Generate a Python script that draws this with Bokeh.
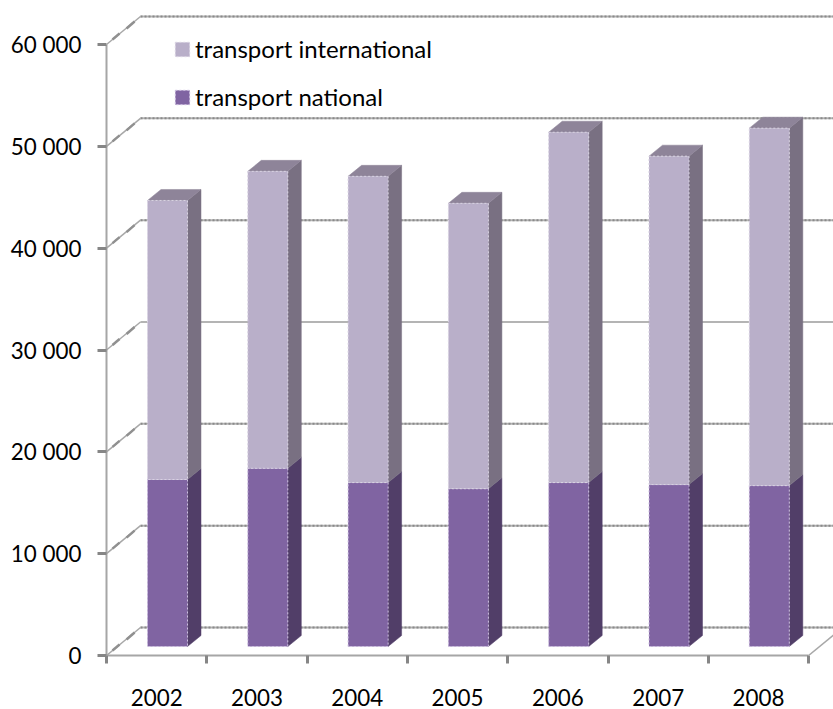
from bokeh.plotting import figure
from bokeh.embed import file_html
from bokeh.resources import INLINE
from bokeh.models import Range1d, LinearAxis, FixedTicker, Legend, LegendItem

# ---- data ----
years = ["2002", "2003", "2004", "2005", "2006", "2007", "2008"]
national = [16400, 17500, 16100, 15500, 16100, 15900, 15800]
international = [27400, 29160, 30070, 28020, 34400, 32250, 35100]
y_ticks = [0, 10000, 20000, 30000, 40000, 50000, 60000]
y_labels = ["0", "10 000", "20 000", "30 000", "40 000", "50 000", "60 000"]
label_national = "transport national"
label_international = "transport international"

# ---- geometry (value units per axis) ----
PX_Y = 60000 / 611.0      # value per pixel
PX_X = 1 / 100.3          # category per pixel
FS = "22.4px"

W, H = 833, 709
p = figure(width=W, height=H, output_backend="svg", toolbar_location=None,
           x_axis_type=None, y_axis_type=None,
           min_border_left=106, min_border_right=0, min_border_top=0, min_border_bottom=54,
           outline_line_color=None, background_fill_color="white", border_fill_color="white")
p.grid.visible = False
x_end = 727 * PX_X
p.x_range = Range1d(0, x_end)
p.y_range = Range1d(0, 655 * PX_Y)

# back wall and depth lines
wall_dx, wall_dy = 34 * PX_X, 28 * PX_Y
n = len(years)
GRID = "#b4b4b4"
for i, t in enumerate(y_ticks):
    p.line([wall_dx, x_end], [t + wall_dy, t + wall_dy], line_color=GRID, line_width=2)
    if t != 30000:
        p.line([wall_dx, x_end], [t + wall_dy, t + wall_dy],
               line_color="#8a8a8a", line_width=2, line_dash="2 2")
    p.line([0, wall_dx], [t, t + wall_dy], line_color="#a8a8a8", line_width=1.5)
    p.line([0.06, 0.13], [t + 5 * PX_Y, t + 11 * PX_Y], line_color="#909090", line_width=2.5)
    p.line([0.20, 0.28], [t + 16 * PX_Y, t + 23 * PX_Y], line_color="#909090", line_width=2.5)
# floor line on right
p.line([n, n + wall_dx], [0, wall_dy], line_color="#a8a8a8", line_width=1.5)

# bars
left = 41 * PX_X
bar_w = 40 * PX_X
base = 9 * PX_Y
dx, dy = 13.5 * PX_X, 11 * PX_Y

xl = [i + left for i in range(n)]
xr = [x + bar_w for x in xl]
nat_top = [base + v for v in national]
tot_top = [a + b for a, b in zip(nat_top, international)]
nat_bot = [base] * n


def side(y0, y1):
    return ([[r, r + dx, r + dx, r] for r in xr],
            [[a, a + dy, b + dy, b] for a, b in zip(y0, y1)])


sx, sy = side(nat_bot, nat_top)
p.patches(sx, sy, fill_color="#513e68", line_color="#513e68", line_width=0.5)
sx, sy = side(nat_top, tot_top)
p.patches(sx, sy, fill_color="#797082", line_color="#797082", line_width=0.5)
p.patches([[l, l + dx, r + dx, r] for l, r in zip(xl, xr)],
          [[t, t + dy, t + dy, t] for t in tot_top],
          fill_color="#8e8499", line_color="#8e8499", line_width=0.5)

r_nat = p.quad(left=xl, right=xr, bottom=nat_bot, top=nat_top,
               fill_color="#8064a2", line_color="#cdbfe0", line_width=1, line_dash="2 2")
r_int = p.quad(left=xl, right=xr, bottom=nat_top, top=tot_top,
               fill_color="#b9afc9", line_color="#d9d3e2", line_width=1, line_dash="2 2")

# axes
yax = LinearAxis(ticker=FixedTicker(ticks=y_ticks), bounds=(0, 60000),
                 major_label_overrides={t: s for t, s in zip(y_ticks, y_labels)},
                 major_label_text_font="Lato", major_label_text_font_size=FS,
                 major_label_text_color="#000000", major_label_standoff=16,
                 axis_line_color="#a6a6a6", axis_line_width=2,
                 major_tick_in=0, major_tick_out=9, major_tick_line_color="#868686", major_tick_line_width=3,
                 minor_tick_in=0, minor_tick_out=0)
p.add_layout(yax, "left")

xax = LinearAxis(ticker=FixedTicker(ticks=[i + 0.5 for i in range(n)], minor_ticks=list(range(n + 1))),
                 bounds=(0, n),
                 major_label_overrides={i + 0.5: y for i, y in enumerate(years)},
                 major_label_text_font="Lato", major_label_text_font_size=FS,
                 major_label_text_color="#000000", major_label_standoff=25,
                 axis_line_color="#a6a6a6", axis_line_width=2,
                 major_tick_in=0, major_tick_out=0,
                 minor_tick_in=0, minor_tick_out=8, minor_tick_line_color="#868686", minor_tick_line_width=3)
p.add_layout(xax, "below")

legend = Legend(items=[LegendItem(label=label_international, renderers=[r_int]),
                       LegendItem(label=label_national, renderers=[r_nat])],
                location=(67, 544), orientation="vertical", background_fill_alpha=0, border_line_alpha=0,
                padding=0, margin=0, spacing=19, label_standoff=4, glyph_width=18, glyph_height=18,
                label_height=14, label_text_font="Lato", label_text_font_size="24px",
                label_text_color="#000000", label_text_baseline="middle")
p.add_layout(legend, "center")

open("out.html", "w").write(file_html(p, INLINE))
